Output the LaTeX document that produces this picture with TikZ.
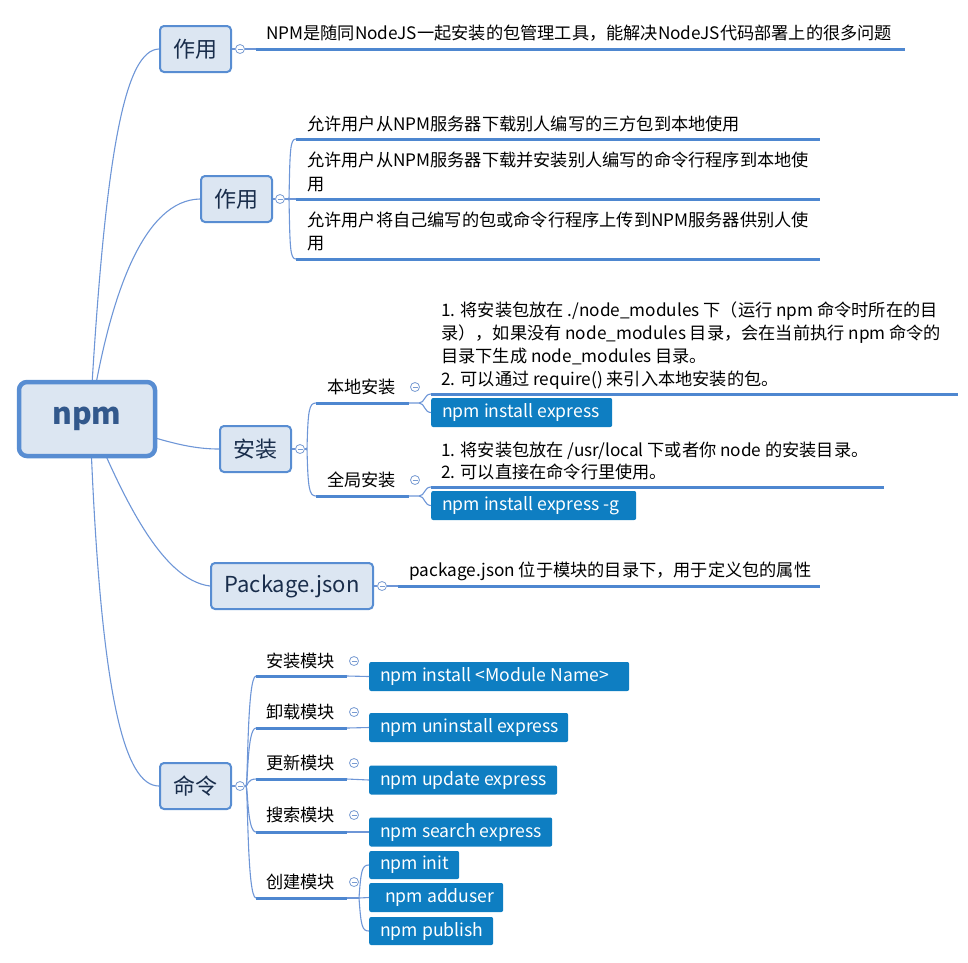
\documentclass[tikz,border=0pt]{standalone}
\usepackage{fontspec}
\setmainfont{Noto Sans CJK SC}
\usetikzlibrary{backgrounds}
\definecolor{thinC}{RGB}{110,150,215}
\definecolor{lineC}{RGB}{78,135,208}
\definecolor{nodeB}{RGB}{88,141,210}
\definecolor{nodeF}{RGB}{220,230,242}
\definecolor{nodeT}{RGB}{25,45,75}
\definecolor{rootT}{RGB}{50,88,140}
\definecolor{cmdF}{RGB}{14,126,194}
\definecolor{togC}{RGB}{120,155,210}
\newcommand{\cmdtxt}[2]{\makebox[#1][l]{#2}}
\begin{document}
\begin{tikzpicture}[x=1pt,y=-1pt,
 conn/.style={draw=thinC, line width=1.1pt},
 uline/.style={draw=lineC, line width=3pt},
 topic/.style={draw=nodeB, line width=2pt, fill=nodeF, rounded corners=4pt, text=nodeT, inner sep=0pt, font=\fontsize{22}{26}\selectfont},
 tog/.style={circle, draw=togC, fill=white, line width=0.8pt, minimum size=9pt, inner sep=0pt,
   path picture={\draw[togC, line width=0.8pt] ([xshift=-2.5pt]path picture bounding box.center) -- ([xshift=2.5pt]path picture bounding box.center);}},
 txt/.style={anchor=base west, inner sep=0pt, text=black, font=\fontsize{17.2}{20}\selectfont},
 cmd/.style={anchor=west, fill=cmdF, text=white, rounded corners=2pt, minimum height=29pt, inner xsep=11pt, inner ysep=0pt, font=\fontsize{17.6}{20}\selectfont}]
\useasboundingbox (0,0) rectangle (968,962);

% root
\node[draw=nodeB, line width=4.5pt, fill=nodeF, rounded corners=8pt, minimum width=136pt, minimum height=74pt, inner sep=0pt, text=rootT, font=\fontsize{30}{36}\selectfont\bfseries] (root) at (87,419) {npm};
\coordinate (rc) at (90,419);

% first-level topics
\node[topic, minimum width=71pt, minimum height=46pt] (zy1) at (195.5,49) {作用};
\node[topic, minimum width=71pt, minimum height=46pt] (zy2) at (236.5,199) {作用};
\node[topic, minimum width=71pt, minimum height=46pt] (az) at (255.5,449) {安装};
\node[topic, minimum width=162pt, minimum height=46pt] (pk) at (292,586) {Package.json};
\node[topic, minimum width=71pt, minimum height=46pt] (ml) at (195.5,786) {命令};

% root connectors
\begin{scope}[on background layer]
\draw[conn] (rc) .. controls (105,150) and (125,50) .. (zy1.west);
\draw[conn] (rc) .. controls (110,290) and (145,200) .. (zy2.west);
\draw[conn] (rc) .. controls (150,435) and (180,449) .. (az.west);
\draw[conn] (rc) .. controls (120,490) and (160,580) .. (pk.west);
\draw[conn] (rc) .. controls (100,700) and (125,786) .. (ml.west);
\end{scope}

% toggles
\node[tog] (t1) at (240,49) {};
\node[tog] (t2) at (280,199) {};
\node[tog] (t3) at (300,449) {};
\node[tog] (t31) at (415,387) {};
\node[tog] (t32) at (415,480) {};
\node[tog] (t4) at (382,586) {};
\node[tog] (t5) at (240,786) {};
\node[tog] (t51) at (354,661) {};
\node[tog] (t52) at (354,712) {};
\node[tog] (t53) at (354,763) {};
\node[tog] (t54) at (354,815) {};
\node[tog] (t55) at (354,882) {};

% ---- 作用 1
\node[txt] (a1) at (266,39.5) {NPM是随同NodeJS一起安装的包管理工具，能解决NodeJS代码部署上的很多问题};
\coordinate (u1s) at (256,49); \coordinate (u1e) at (905,49);
\draw[conn] (zy1.east) -- (t1.west);
\draw[conn] (t1.east) -- (u1s);
\draw[uline] (u1s) -- (u1e);

% ---- 作用 2
\node[txt] (b1) at (307,130.5) {允许用户从NPM服务器下载别人编写的三方包到本地使用};
\node[txt] (b2) at (307,166.5) {允许用户从NPM服务器下载并安装别人编写的命令行程序到本地使};
\node[txt] (b2b) at (307,190.5) {用};
\node[txt] (b3) at (307,226.5) {允许用户将自己编写的包或命令行程序上传到NPM服务器供别人使};
\node[txt] (b3b) at (307,249.5) {用};
\coordinate (v0) at (289,199);
\coordinate (v1s) at (296,139); \coordinate (v1e) at (820,139);
\coordinate (v2s) at (296,199); \coordinate (v2e) at (820,199);
\coordinate (v3s) at (296,259); \coordinate (v3e) at (820,259);
\draw[conn] (zy2.east) -- (t2.west);
\draw[conn] (t2.east) -- (v0);
\draw[conn] (v0) .. controls (290,150) and (290,139) .. (v1s);
\draw[conn] (v0) -- (v2s);
\draw[conn] (v0) .. controls (290,248) and (290,259) .. (v3s);
\draw[uline] (v1s) -- (v1e);
\draw[uline] (v2s) -- (v2e);
\draw[uline] (v3s) -- (v3e);

% ---- 安装
\coordinate (w0) at (307,449);
\coordinate (w1s) at (316,403); \coordinate (w1e) at (409,403);
\coordinate (w2s) at (316,496); \coordinate (w2e) at (409,496);
\draw[conn] (az.east) -- (t3.west);
\draw[conn] (t3.east) -- (w0);
\draw[conn] (w0) .. controls (308,410) and (309,403) .. (w1s);
\draw[conn] (w0) .. controls (308,488) and (309,496) .. (w2s);
\draw[uline] (w1s) -- (w1e);
\draw[uline] (w2s) -- (w2e);
\node[txt] (bd) at (327,393.5) {本地安装};
\node[txt] (qj) at (327,486.5) {全局安装};

% local
\node[txt] (l1) at (441,316.5) {1. 将安装包放在 ./node\_modules 下（运行 npm 命令时所在的目};
\node[txt] (l2) at (441,339.5) {录），如果没有 node\_modules 目录，会在当前执行 npm 命令的};
\node[txt] (l3) at (441,362.5) {目录下生成 node\_modules 目录。};
\node[txt] (l4) at (441,385.5) {2. 可以通过 require() 来引入本地安装的包。};
\coordinate (x1s) at (431,394); \coordinate (x1e) at (958,394);
\node[cmd] (lc) at (431,412.5) {\cmdtxt{159pt}{npm install express}};
\draw[conn] (w1e) -- (419,403) .. controls (425,403) and (424,394) .. (x1s);
\draw[conn] (419,403) .. controls (425,403) and (424,412.5) .. (lc.west);
\draw[uline] (x1s) -- (x1e);

% global
\node[txt] (g1) at (441,456.5) {1. 将安装包放在 /usr/local 下或者你 node 的安装目录。};
\node[txt] (g2) at (441,478.5) {2. 可以直接在命令行里使用。};
\coordinate (x2s) at (431,487); \coordinate (x2e) at (884,487);
\node[cmd] (gc) at (431,505.5) {\cmdtxt{183pt}{npm install express -g}};
\draw[conn] (w2e) -- (419,496) .. controls (425,496) and (424,487) .. (x2s);
\draw[conn] (419,496) .. controls (425,496) and (424,505.5) .. (gc.west);
\draw[uline] (x2s) -- (x2e);

% ---- Package.json
\node[txt] (p1) at (409,576.5) {package.json 位于模块的目录下，用于定义包的属性};
\coordinate (ps) at (398,586); \coordinate (pe) at (820,586);
\draw[conn] (pk.east) -- (t4.west);
\draw[conn] (t4.east) -- (ps);
\draw[uline] (ps) -- (pe);

% ---- 命令
\coordinate (m0) at (246,786);
\draw[conn] (ml.east) -- (t5.west);
\draw[conn] (t5.east) -- (m0);
\foreach \yy/\nm in {676/1,728/2,779/3,832/4,898/5}{
  \coordinate (m\nm s) at (256,\yy);
  \coordinate (m\nm e) at (347,\yy);
  \draw[conn] (m0) .. controls (248,786) and (247,\yy) .. (m\nm s);
  \draw[uline] (m\nm s) -- (m\nm e);
}
\node[txt] (k1) at (266,667.5) {安装模块};
\node[txt] (k2) at (266,718.5) {卸载模块};
\node[txt] (k3) at (266,769.5) {更新模块};
\node[txt] (k4) at (266,821.5) {搜索模块};
\node[txt] (k5) at (266,888.5) {创建模块};

\node[cmd] (c1) at (369,676.5) {\cmdtxt{238pt}{npm install <Module Name>}};
\node[cmd] (c2) at (369,727.5) {\cmdtxt{177pt}{npm uninstall express}};
\node[cmd] (c3) at (369,780) {\cmdtxt{166pt}{npm update express}};
\node[cmd] (c4) at (369,832) {\cmdtxt{161pt}{npm search express}};
\node[cmd, minimum height=28pt] (c5) at (369,865) {\cmdtxt{68pt}{npm init}};
\node[cmd] (c6) at (369,897.5) {\cmdtxt{112pt}{\hspace*{5pt}npm adduser}};
\node[cmd, minimum height=28pt] (c7) at (369,931) {\cmdtxt{102pt}{npm publish}};

\draw[conn] (m1e) -- (c1.west);
\draw[conn] (m2e) -- (c2.west);
\draw[conn] (m3e) -- (c3.west);
\draw[conn] (m4e) -- (c4.west);
\coordinate (n0) at (359,898);
\draw[conn] (m5e) -- (n0);
\draw[conn] (n0) .. controls (361,870) and (362,865) .. (c5.west);
\draw[conn] (n0) -- (c6.west);
\draw[conn] (n0) .. controls (361,926) and (362,931) .. (c7.west);
\end{tikzpicture}
\end{document}
